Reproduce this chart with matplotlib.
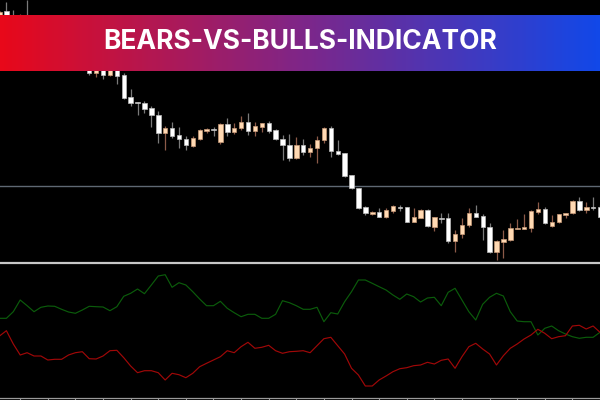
"""
Bears vs Bulls indicator screenshot: candlesticks on top, bulls/bears power lines below.
Saves out.png (600x400).
"""

import numpy as np
import matplotlib
matplotlib.use("Agg")
import matplotlib.pyplot as plt
from matplotlib.colors import LinearSegmentedColormap

TITLE = "BEARS-VS-BULLS-INDICATOR"

# OHLC, one entry per bar (arbitrary price units)
OPEN = [247.3, 251, 246, 238, 246, 232, 224, 230, 218, 210, 216, 200, 204, 194, 189, 194,
        187.3, 192, 187.3, 165, 160, 159.3, 153.7, 147, 129.3, 133.7, 127, 123, 116, 123,
        131, 133.5, 120.3, 137.7, 130.3, 134, 139.7, 131.3, 135.3, 139, 132, 123, 117,
        103.7, 117, 110.3, 113.7, 122, 134, 111.3, 108.7, 86.7, 74.3, 54.7, 48.3, 50,
        45.3, 51.3, 55, 55, 40.3, 44.3, 51.7, 35.3, 44, 44, 21.3, 28, 36.7, 48.7, 46,
        35.3, 10, 20.3, 22, 33.3, 33.3, 34.3, 50.3, 53, 36.3, 39.7, 47.3, 48.7, 61, 52,
        55, 54.7]
HIGH = [251, 260.3, 252, 248, 262, 236, 234, 234, 222, 220, 220, 210, 208, 198, 196, 197,
        195, 196, 188.7, 173, 160.3, 161.3, 156, 151, 136, 140.3, 135.3, 126, 126, 133,
        133.7, 135.3, 138.7, 144.3, 139.3, 146, 149.3, 139.7, 139.3, 141.3, 132.7, 127,
        128, 125.3, 122.7, 117.7, 126, 134.7, 136, 122, 109.3, 87, 74.5, 56, 51.3, 53.7,
        54, 56.7, 57.3, 55.3, 54.3, 52.7, 52.7, 45.3, 49.3, 49.3, 32, 43.7, 53.7, 57, 48,
        39.3, 22, 32, 38.7, 42.7, 48, 52, 60.3, 55.3, 47, 48.5, 49.3, 62, 65.3, 60.3,
        64.7, 57]
LOW = [247, 247, 234, 232, 229, 220, 218, 214, 206, 204, 200, 196, 192, 187, 185.3, 183,
       186, 177.7, 163.3, 156, 147, 149.3, 135.3, 119.3, 112, 123.7, 113.7, 112, 114.7,
       122, 128.7, 126, 118, 126, 128, 132, 127, 126, 130.3, 128.7, 122, 102, 101.3,
       102.7, 107, 104.7, 98.7, 118.7, 105.3, 107, 85.5, 72.7, 52.7, 47.3, 47.3, 44.7,
       44.3, 48.7, 51.3, 39.7, 39.7, 43.7, 35.3, 31.3, 38.7, 19.3, 10.3, 23.7, 35.3,
       44.7, 22, 9.3, 2, 4, 21, 32.7, 32.7, 30.3, 48, 38, 35.3, 39, 44.3, 48, 51.3,
       49.3, 52, 44]
CLOSE = [250, 247.3, 238, 244, 232, 224, 230, 218, 210, 216, 202, 206, 196, 189, 192, 187,
         192, 186, 164.3, 158.7, 159.3, 153.3, 147, 129.3, 133.7, 126.3, 122.7, 117, 123.7,
         131.7, 133, 132.5, 137.7, 130.3, 134.3, 139.7, 131.3, 135.7, 138.7, 131.3, 122.7,
         117, 103.7, 117, 110.3, 114.3, 122, 134, 111.3, 108, 86.3, 73.7, 54.3, 48.7, 50,
         45.3, 51.7, 55.7, 54.3, 40.3, 44.7, 51.7, 36, 44.7, 43.3, 21.3, 28, 36.7, 48.7,
         45.3, 35.3, 10.3, 21, 22.7, 33.7, 34, 34.7, 51, 53, 38.7, 40.3, 47.7, 49.3, 61,
         52, 54.7, 54.3, 45.3]
LEVEL = 76  # horizontal line on the price panel

# indicator panel
BULLS = [81.7, 81.7, 88.3, 100, 94.3, 88.3, 92.7, 94, 93.7, 90.7, 88, 86.7, 90, 93.7, 93.3,
         93, 89.3, 93.3, 103.7, 106.7, 111, 106.3, 115, 124, 125.3, 112.7, 117.3, 115,
         108.3, 101, 94.3, 94.3, 98.7, 91.7, 87.3, 83.3, 85.7, 85.7, 81.7, 81.7, 85.7,
         99.3, 97.3, 94.3, 90.7, 90.7, 92.7, 78.3, 87.3, 86, 98.3, 108.3, 120, 120, 116.7,
         113.3, 110, 105, 100.7, 106, 103.3, 98, 102, 102.7, 94.3, 107.7, 111.7, 100, 88.3,
         80, 95.7, 102.7, 106.7, 104, 88.3, 79, 78.3, 78.3, 65, 71.7, 74, 69.3, 66, 63.3,
         61.7, 62.7, 62.7, 67.7]
BEARS = [64, 69.3, 56, 45, 47.3, 44, 44, 40, 40.7, 40.7, 45, 47.3, 48.3, 41.3, 41, 44, 49.3,
         49.7, 42.3, 34, 27.3, 29.3, 29.3, 27.3, 20, 26.7, 25.3, 22.3, 26.7, 33.3, 36.7, 40,
         43.3, 49.3, 47.3, 53.3, 57.7, 51.7, 52.7, 54.7, 49.3, 46.7, 48.3, 48.7, 49.3, 47.3,
         54.3, 61.3, 62.7, 54.3, 46, 31.7, 25, 14, 14, 20, 24, 28.3, 31.3, 32.3, 34.3, 35,
         37.7, 36, 39.7, 41, 31.7, 43.3, 53.3, 56.7, 51, 46, 35, 44.3, 51.7, 56, 61, 65,
         70.7, 66.7, 61.3, 63.3, 64.3, 74, 74.7, 71, 74, 67.7]

BULL_BODY = "#ffd9b3"
BULL_WICK = "#8c5a48"
BEAR_BODY = "#ffffff"
BEAR_WICK = "#7a7a7a"


def main():
    o, h, l, c = map(np.array, (OPEN, HIGH, LOW, CLOSE))
    x = np.arange(len(o))
    up = c >= o

    fig = plt.figure(figsize=(6, 4), dpi=100, facecolor="black")
    xlim = (0.5 / 6.904, 600.5 / 6.904)

    # price panel
    ax = fig.add_axes([0, 138 / 400, 1, 262 / 400], facecolor="black")
    ax.axhline(LEVEL, color="#5f6873", lw=1.0, zorder=1)
    ax.vlines(x[up], l[up], h[up], color=BULL_WICK, lw=0.9, zorder=2)
    ax.vlines(x[~up], l[~up], h[~up], color=BEAR_WICK, lw=0.9, zorder=2)
    body_lo = np.minimum(o, c)
    body_h = np.maximum(np.abs(c - o), 0.9)
    ax.bar(x[up], body_h[up], bottom=body_lo[up], width=0.64,
           color=BULL_BODY, edgecolor="#c89a78", lw=0.5, zorder=3)
    ax.bar(x[~up], body_h[~up], bottom=body_lo[~up], width=0.64,
           color=BEAR_BODY, edgecolor="#bbbbbb", lw=0.5, zorder=3)
    ax.set_xlim(*xlim)
    ax.set_ylim(0, 262)
    ax.set_xticks([])
    ax.set_yticks([])
    for s in ax.spines.values():
        s.set_visible(False)

    # indicator panel
    ai = fig.add_axes([0, 2 / 400, 1, 135 / 400], facecolor="black")
    ai.plot(x, BULLS, color="#0b5c0b", lw=0.85)
    ai.plot(x, BEARS, color="#a00808", lw=0.85)
    ai.set_xlim(*xlim)
    ai.set_ylim(2, 137)
    ai.set_xticks(np.arange(3, len(x), 4))
    ai.set_yticks([])
    ai.tick_params(axis="x", direction="out", length=2, width=0.8,
                   colors="#9a9a9a", labelbottom=False)
    for side in ("left", "right"):
        ai.spines[side].set_visible(False)
    ai.spines["top"].set_color("#c8c8c8")
    ai.spines["top"].set_linewidth(1.6)
    ai.spines["bottom"].set_color("#9a9a9a")
    ai.spines["bottom"].set_linewidth(0.9)

    # gradient banner
    ab = fig.add_axes([0, 329 / 400, 1, 56 / 400])
    cmap = LinearSegmentedColormap.from_list(
        "banner", [(0, "#e8081a"), (0.5, "#7f2688"), (1, "#1248e8")])
    ab.imshow(np.linspace(0, 1, 300)[None, :], cmap=cmap, aspect="auto",
              extent=(0, 1, 0, 1))
    ab.text(0.5, 0.39, TITLE, color="white", fontsize=19, fontweight="bold",
            family=["Inter", "DejaVu Sans"], ha="center", va="baseline")
    ab.set_xlim(0, 1)
    ab.set_ylim(0, 1)
    ab.axis("off")

    fig.savefig("out.png", dpi=100, facecolor="black")


if __name__ == "__main__":
    main()
